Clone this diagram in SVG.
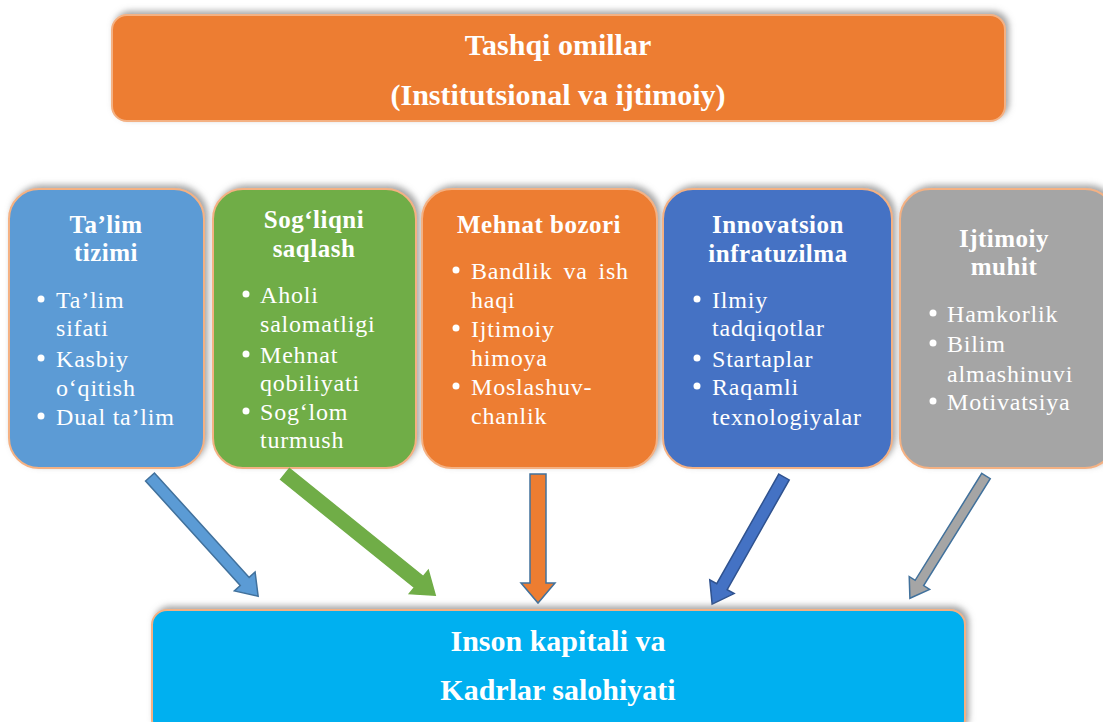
<svg xmlns="http://www.w3.org/2000/svg" width="1103" height="722" viewBox="0 0 1103 722">
<defs>
<filter id="sh" x="-10%" y="-20%" width="120%" height="140%">
<feDropShadow dx="3" dy="-3" stdDeviation="3" flood-color="#7f7f7f" flood-opacity="0.7"/>
</filter>
<style>
.box{stroke:#F4B183;stroke-width:2}
.big{font-family:"Liberation Serif","Times New Roman",serif;font-weight:bold;font-size:30px;fill:#fff;text-anchor:middle}
.ttl{font-family:"Liberation Serif","Times New Roman",serif;font-weight:bold;font-size:25px;letter-spacing:0.5px;fill:#fff;text-anchor:middle}
.bl{font-family:"Liberation Serif","Times New Roman",serif;font-size:24px;letter-spacing:0.8px;fill:#fff}
.dot{fill:#fff}
.ar{stroke-width:1.5;stroke-linejoin:miter}
</style>
</defs>
<rect width="1103" height="722" fill="#fff"/>

<g id="top">
<rect class="box" x="112" y="15" width="893" height="106" rx="15" fill="#ED7D31" filter="url(#sh)"/>
<text class="big" x="558" y="55">Tashqi omillar</text>
<text class="big" x="558" y="105">(Institutsional va ijtimoiy)</text>
</g>

<g id="talim">
<rect class="box" x="9" y="189" width="195" height="279" rx="30" fill="#5B9BD5" filter="url(#sh)"/>
<text class="ttl" x="106" y="233">Ta’lim</text>
<text class="ttl" x="106" y="261">tizimi</text>
<circle class="dot" cx="41" cy="299" r="3.5"/>
<text class="bl" x="56" y="308">Ta’lim</text>
<text class="bl" x="56" y="336">sifati</text>
<circle class="dot" cx="41" cy="358" r="3.5"/>
<text class="bl" x="56" y="367">Kasbiy</text>
<text class="bl" x="56" y="396">o‘qitish</text>
<circle class="dot" cx="41" cy="416" r="3.5"/>
<text class="bl" x="56" y="425">Dual ta’lim</text>
</g>

<g id="sogliq">
<rect class="box" x="213" y="189" width="203" height="279" rx="30" fill="#70AD47" filter="url(#sh)"/>
<text class="ttl" x="314" y="228">Sog‘liqni</text>
<text class="ttl" x="314" y="257">saqlash</text>
<circle class="dot" cx="246" cy="294" r="3.5"/>
<text class="bl" x="260" y="303">Aholi</text>
<text class="bl" x="260" y="332">salomatligi</text>
<circle class="dot" cx="246" cy="354" r="3.5"/>
<text class="bl" x="260" y="363">Mehnat</text>
<text class="bl" x="260" y="391">qobiliyati</text>
<circle class="dot" cx="246" cy="411" r="3.5"/>
<text class="bl" x="260" y="420">Sog‘lom</text>
<text class="bl" x="260" y="448">turmush</text>
</g>

<g id="mehnat">
<rect class="box" x="422" y="189" width="235" height="279" rx="30" fill="#ED7D31" filter="url(#sh)"/>
<text class="ttl" x="539" y="233">Mehnat bozori</text>
<circle class="dot" cx="456" cy="270" r="3.5"/>
<text class="bl" x="471" y="279" word-spacing="4">Bandlik va ish</text>
<text class="bl" x="471" y="308">haqi</text>
<circle class="dot" cx="456" cy="328" r="3.5"/>
<text class="bl" x="471" y="337">Ijtimoiy</text>
<text class="bl" x="471" y="366">himoya</text>
<circle class="dot" cx="456" cy="386" r="3.5"/>
<text class="bl" x="471" y="395">Moslashuv-</text>
<text class="bl" x="471" y="424">chanlik</text>
</g>

<g id="innovatsion">
<rect class="box" x="663" y="189" width="229" height="279" rx="30" fill="#4472C4" filter="url(#sh)"/>
<text class="ttl" x="778" y="233">Innovatsion</text>
<text class="ttl" x="778" y="262">infratuzilma</text>
<circle class="dot" cx="697" cy="299" r="3.5"/>
<text class="bl" x="712" y="308">Ilmiy</text>
<text class="bl" x="712" y="336">tadqiqotlar</text>
<circle class="dot" cx="697" cy="358" r="3.5"/>
<text class="bl" x="712" y="367">Startaplar</text>
<circle class="dot" cx="697" cy="386" r="3.5"/>
<text class="bl" x="712" y="395">Raqamli</text>
<text class="bl" x="712" y="425">texnologiyalar</text>
</g>

<g id="ijtimoiy">
<rect class="box" x="900" y="189" width="215" height="279" rx="30" fill="#A5A5A5" filter="url(#sh)"/>
<text class="ttl" x="1004" y="247">Ijtimoiy</text>
<text class="ttl" x="1004" y="275">muhit</text>
<circle class="dot" cx="933" cy="313" r="3.5"/>
<text class="bl" x="947" y="322">Hamkorlik</text>
<circle class="dot" cx="933" cy="343" r="3.5"/>
<text class="bl" x="947" y="352">Bilim</text>
<text class="bl" x="947" y="382">almashinuvi</text>
<circle class="dot" cx="933" cy="401" r="3.5"/>
<text class="bl" x="947" y="410">Motivatsiya</text>
</g>

<g id="connectors">
<path class="ar" fill="#5B9BD5" stroke="#41719C" transform="translate(150,477) rotate(-42.2)" d="M-6,0 L6,0 L6,141 L14,141 L0,161 L-14,141 L-6,141 Z"/>
<path class="ar" fill="#70AD47" stroke="#70AD47" transform="translate(285,474) rotate(-51.1)" d="M-7,0 L7,0 L7,172 L15,172 L0,193 L-15,172 L-7,172 Z"/>
<path class="ar" fill="#ED7D31" stroke="#41719C" transform="translate(538,474)" d="M-8,0 L8,0 L8,109 L17,109 L0,129 L-17,109 L-8,109 Z"/>
<path class="ar" fill="#4472C4" stroke="#2F528F" transform="translate(784,477) rotate(29.5)" d="M-6,0 L6,0 L6,126 L14,126 L0,146 L-14,126 L-6,126 Z"/>
<path class="ar" fill="#A5A5A5" stroke="#41719C" transform="translate(986,476) rotate(31.9)" d="M-5,0 L5,0 L5,126 L12,126 L0,144 L-12,126 L-5,126 Z"/>
</g>

<g id="bottom">
<rect class="box" x="152" y="610" width="813" height="125" rx="15" fill="#00B0F0" filter="url(#sh)"/>
<text class="big" x="558" y="651">Inson kapitali va</text>
<text class="big" x="558" y="700">Kadrlar salohiyati</text>
</g>
</svg>
